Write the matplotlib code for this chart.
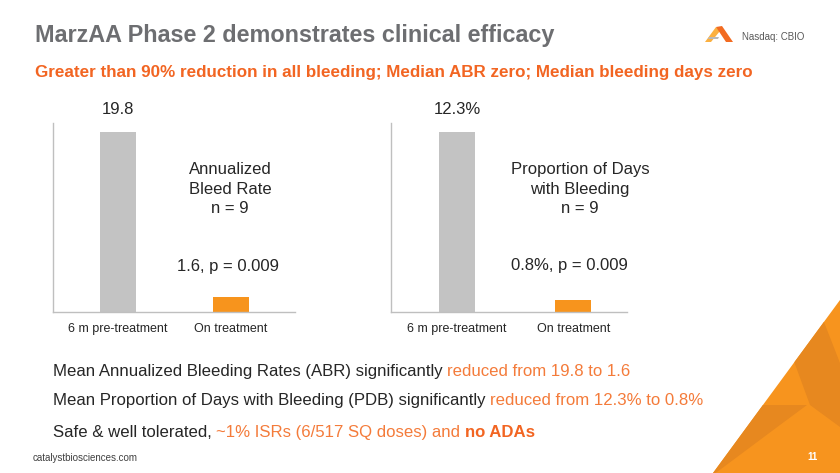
import matplotlib
matplotlib.use("Agg")
import matplotlib.pyplot as plt
from matplotlib.patches import Polygon
from matplotlib.transforms import Affine2D

# ---------------- data ----------------
categories = ["6 m pre-treatment", "On treatment"]
abr_values = [19.8, 1.6]
pdb_values = [12.3, 0.8]
abr_labels = ["19.8", "1.6, p = 0.009"]
pdb_labels = ["12.3%", "0.8%, p = 0.009"]
abr_title = ["Annualized", "Bleed Rate", "n = 9"]
pdb_title = ["Proportion of Days", "with Bleeding", "n = 9"]

W, H = 840, 473
plt.rcParams['font.family'] = ['Liberation Sans', 'DejaVu Sans']
fig = plt.figure(figsize=(W / 100, H / 100), dpi=100)
fig.patch.set_facecolor("white")
T = Affine2D().scale(1 / W, -1 / H).translate(0, 1) + fig.transFigure

GRAY_TITLE = "#6D6E71"
ORANGE_T = "#F26522"
ORANGE_B = "#F47B3A"
BAR_GRAY = "#C3C3C3"
BAR_ORANGE = "#F7941D"
TXT = "#262626"

# ---------------- decorations ----------------
tri = Polygon([(713, 473), (840, 300), (840, 473)], closed=True,
              transform=T, facecolor="#F7941E", edgecolor="none")
fig.patches.append(tri)
for pts in ([(818, 318), (824, 322), (840, 363), (840, 427), (810, 405), (792, 356)],
            [(760, 405), (807, 405), (780, 425), (713, 475), (700, 473)]):
    p = Polygon(pts, closed=True, transform=T, facecolor="#E7881F", edgecolor="none")
    fig.patches.append(p)
    p.set_clip_path(tri)
# logo
fig.patches.append(Polygon([(705, 42), (716, 27), (720, 31), (711, 42)], closed=True,
                           transform=T, facecolor="#FBB040", edgecolor="none"))
fig.patches.append(Polygon([(716, 27), (722, 26), (733, 42), (726, 42)], closed=True,
                           transform=T, facecolor="#F26B21", edgecolor="none"))
fig.patches.append(Polygon([(709, 37), (719, 37), (718, 39), (708, 39)], closed=True,
                           transform=T, facecolor="#B9B9B9", edgecolor="none"))
fig.text(742, 40, "Nasdaq: CBIO", transform=T, fontsize=7, color="#595959", va="baseline")

fig.text(35, 42, "MarzAA Phase 2 demonstrates clinical efficacy", transform=T,
         fontsize=16.85, fontweight="bold", color=GRAY_TITLE, va="baseline")
fig.text(35, 77, "Greater than 90% reduction in all bleeding; Median ABR zero; Median bleeding days zero",
         transform=T, fontsize=12.25, fontweight="bold", color=ORANGE_T, va="baseline")
fig.text(33, 461, "catalystbiosciences.com", transform=T, fontsize=7, color="#404040", va="baseline")
fig.text(813, 460, "11", transform=T, fontsize=7, fontweight="bold", color="white",
         va="baseline", ha="center")

# ---------------- charts ----------------
def make_chart(rect, xlim, width, values, labels, title_lines, title_x, label_dx, label_off):
    ax = fig.add_axes(rect)
    x = list(range(len(values)))
    ax.bar(x, values, width=width, color=[BAR_GRAY, BAR_ORANGE])
    ax.set_xlim(*xlim)
    ax.set_ylim(0, max(values) * 1.05)
    for s in ("top", "right"):
        ax.spines[s].set_visible(False)
    for s in ("left", "bottom"):
        ax.spines[s].set_color("#BFBFBF")
        ax.spines[s].set_linewidth(1)
    ax.set_yticks([])
    ax.set_xticks(x, categories)
    ax.tick_params(axis="x", length=0, pad=8, labelsize=9, labelcolor=TXT)
    for i, (v, lab) in enumerate(zip(values, labels)):
        ax.annotate(lab, xy=(i, v), xytext=(label_dx[i], label_off[i]), textcoords="offset points",
                    ha="center", va="baseline", fontsize=12, color=TXT)
    for j, line in enumerate(title_lines):
        fig.text(title_x, 174 + j * 19.5, line, transform=T, ha="center", va="baseline",
                 fontsize=12, color=TXT)
    return ax

ry = 1 - 312 / H
rh = 189 / H
make_chart([53 / W, ry, 242 / W, rh], (-0.578, 1.573), 0.32, abr_values, abr_labels,
           abr_title, 230, [0, -2], [13, 19])
make_chart([391 / W, ry, 236 / W, rh], (-0.567, 1.46), 0.31, pdb_values, pdb_labels,
           pdb_title, 580, [0, -3], [13, 21.5])

# ---------------- bullets ----------------
bullets = [
    [("Mean Annualized Bleeding Rates (ABR) significantly ", TXT, "normal"),
     ("reduced from 19.8 to 1.6", ORANGE_B, "normal")],
    [("Mean Proportion of Days with Bleeding (PDB) significantly ", TXT, "normal"),
     ("reduced from 12.3% to 0.8%", ORANGE_B, "normal")],
    [("Safe & well tolerated, ", TXT, "normal"),
     ("~1% ISRs (6/517 SQ doses) and ", ORANGE_B, "normal"),
     ("no ADAs", ORANGE_T, "bold")],
]
bullet_y = [376, 405, 437]
renderer = fig.canvas.get_renderer()
for segs, yb in zip(bullets, bullet_y):
    x0 = 53
    for s, c, wgt in segs:
        t = fig.text(x0, yb, s, transform=T, fontsize=12.1, color=c, fontweight=wgt, va="baseline")
        bb = t.get_window_extent(renderer=renderer)
        x0 += bb.width

fig.savefig("out.png", dpi=100, facecolor="white")
